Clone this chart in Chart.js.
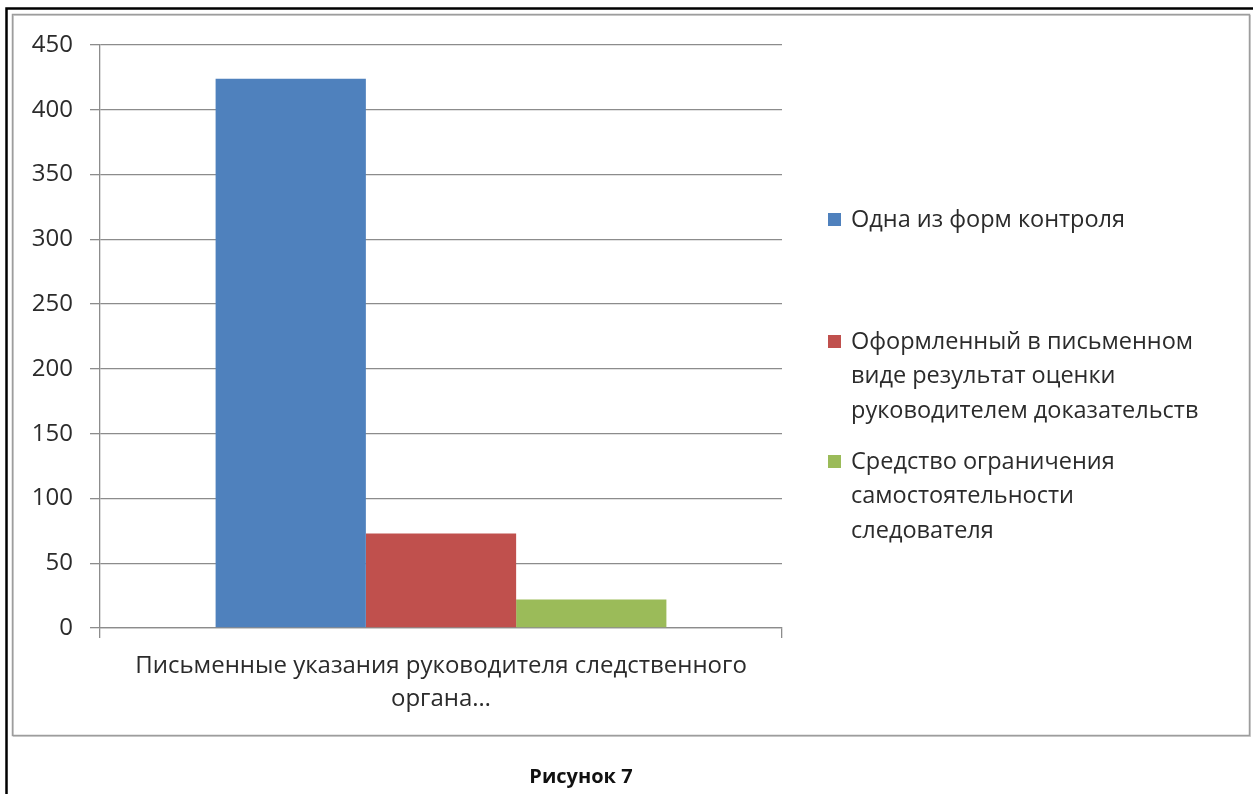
<!DOCTYPE html>
<html lang="ru">
<head>
<meta charset="utf-8">
<title>Рисунок 7</title>
<script src="https://cdn.jsdelivr.net/npm/chart.js@4.4.1/dist/chart.umd.min.js"></script>
<style>
  html, body { margin: 0; padding: 0; background: #ffffff; }
  #wrap { position: relative; width: 1253px; height: 794px; }
  canvas { display: block; }
</style>
</head>
<body>
<div id="wrap"><canvas id="chart" width="1253" height="794"></canvas></div>
<script>
// Category (axis label, wrapped into lines)
const categories = [["Письменные указания руководителя следственного", "органа…"]];

// Series names, split into the lines shown in the legend
const seriesNames = [
  ["Одна из форм контроля"],
  ["Оформленный в письменном", "виде результат оценки", "руководителем доказательств"],
  ["Средство ограничения", "самостоятельности", "следователя"]
];

// Series values (one value per category)
const seriesBlue = [424];
const seriesRed = [73];
const seriesGreen = [22];

// Value axis ticks
const yTickMin = 0;
const yTickMax = 450;
const yTickStep = 50;

const seriesColors = ["#4F81BD", "#C0504D", "#9BBB59"];
const FONT = "'Open Sans', 'DejaVu Sans', sans-serif";
const TEXT = "#2b2b2b";
const GRID = "#8c8c8c";

const datasets = [seriesBlue, seriesRed, seriesGreen].map((vals, i) => ({
  label: seriesNames[i].join(" "),
  legendLines: seriesNames[i],
  data: vals,
  backgroundColor: seriesColors[i],
  borderWidth: 0,
  categoryPercentage: 0.661,
  barPercentage: 1.0
}));

// Page frame, inner chart border, legend and caption
const framePlugin = {
  id: "frame",
  beforeDraw(chart) {
    const ctx = chart.ctx;
    ctx.save();
    ctx.fillStyle = "#ffffff";
    ctx.fillRect(0, 0, chart.width, chart.height);
    // outer black rule (top and left)
    ctx.strokeStyle = "#000000";
    ctx.lineWidth = 2.5;
    ctx.beginPath();
    ctx.moveTo(6.5, 794);
    ctx.lineTo(6.5, 8.5);
    ctx.lineTo(1253, 8.5);
    ctx.stroke();
    // inner chart border with soft shadow
    ctx.strokeStyle = "#d4d4d4";
    ctx.lineWidth = 1;
    ctx.strokeRect(13.5, 15.5, 1237, 721);
    ctx.strokeStyle = "#9d9d9d";
    ctx.lineWidth = 1.5;
    ctx.strokeRect(12.5, 14.5, 1237, 721);
    ctx.restore();
  },
  afterDraw(chart) {
    const ctx = chart.ctx;
    ctx.save();
    // legend drawn with wrapped lines
    const opts = chart.options.plugins.frame;
    chart.data.datasets.forEach((ds, i) => {
      const y0 = opts.legendY[i];
      ctx.fillStyle = ds.backgroundColor;
      ctx.fillRect(opts.legendX, y0 - 7, 13, 13);
      ctx.fillStyle = TEXT;
      ctx.font = "23.5px " + FONT;
      ctx.textAlign = "left";
      ctx.textBaseline = "middle";
      ds.legendLines.forEach((line, k) => {
        ctx.fillText(line, opts.legendX + 23, y0 + k * opts.legendLine);
      });
    });
    // caption
    ctx.fillStyle = "#111111";
    ctx.font = "bold 20px " + FONT;
    ctx.textAlign = "center";
    ctx.textBaseline = "middle";
    ctx.fillText("Рисунок 7", 581, 777);
    ctx.restore();
  }
};

new Chart(document.getElementById("chart"), {
  type: "bar",
  data: { labels: categories, datasets },
  plugins: [framePlugin],
  options: {
    responsive: false,
    animation: false,
    devicePixelRatio: 1,
    layout: { padding: { left: 0, top: 45, right: 471, bottom: 0 } },
    plugins: {
      legend: { display: false },
      tooltip: { enabled: false },
      frame: { legendX: 828, legendY: [220, 342, 462], legendLine: 34.5 }
    },
    scales: {
      x: {
        offset: true,
        grid: { offset: true, drawOnChartArea: false, drawTicks: true, tickLength: 10, color: GRID, lineWidth: 1.3 },
        border: { display: true, color: GRID, width: 1.3 },
        ticks: { color: TEXT, font: { family: FONT, size: 24, lineHeight: "33px" }, padding: 12, maxRotation: 0, autoSkip: false },
        afterFit(scale) { scale.height = 166; }
      },
      y: {
        min: yTickMin,
        max: yTickMax,
        grid: { color: GRID, lineWidth: 1.3, tickLength: 10, drawTicks: true },
        border: { display: true, color: GRID, width: 1.3 },
        ticks: { stepSize: yTickStep, color: TEXT, font: { family: FONT, size: 24 }, padding: 17 },
        afterFit(scale) { scale.width = 100; }
      }
    }
  }
});
</script>
</body>
</html>
